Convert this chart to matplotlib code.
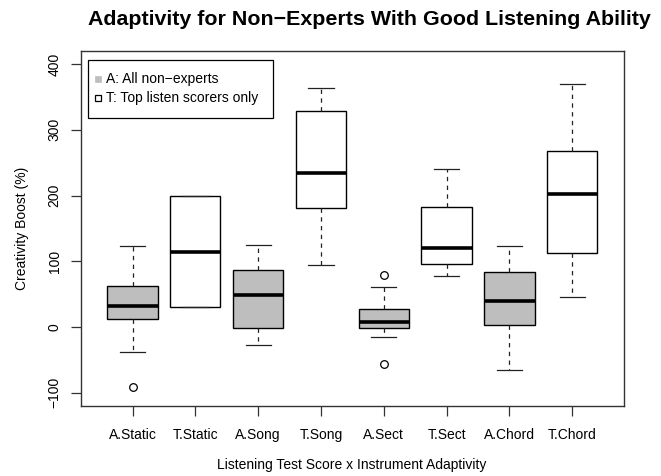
import matplotlib
matplotlib.use("Agg")
import matplotlib.pyplot as plt
from matplotlib.lines import Line2D
from matplotlib.patches import Rectangle

plt.rcParams['font.family'] = ['Liberation Sans', 'DejaVu Sans']

# Group labels and five-number summaries (Creativity Boost, %)
groups = ["A.Static", "T.Static", "A.Song", "T.Song",
          "A.Sect", "T.Sect", "A.Chord", "T.Chord"]
whisker_low = [-39, 30, -27, 94, -16, 77, -66, 45]
box_low     = [12, 30, -2, 181, -1, 96, 3, 113]
medians     = [32, 114, 48, 234, 8, 120, 40, 203]
box_high    = [62, 200, 86, 328, 27, 183, 83, 267]
whisker_high = [123, 200, 125, 363, 61, 240, 123, 369]
outliers = [[-91], [], [], [], [79, -57], [], [], []]
group_kind = ["A", "T", "A", "T", "A", "T", "A", "T"]

legend_labels = ["A: All non\u2212experts", "T: Top listen scorers only"]
fill_colors = {"A": "#BEBEBE", "T": "white"}

W, H = 661, 476
fig = plt.figure(figsize=(W / 100, H / 100), dpi=100)
ax = fig.add_axes([81 / W, 1 - 405.7 / H, (623.7 - 81) / W, (405.7 - 51) / H])

stats = []
for i, g in enumerate(groups):
    stats.append(dict(label=g, whislo=whisker_low[i], q1=box_low[i], med=medians[i],
                      q3=box_high[i], whishi=whisker_high[i], fliers=outliers[i]))

res = ax.bxp(stats, positions=range(1, len(groups) + 1), widths=0.8,
             patch_artist=True, showfliers=True,
             boxprops=dict(edgecolor="black", linewidth=1.0),
             medianprops=dict(color="black", linewidth=2.6, solid_capstyle="butt"),
             whiskerprops=dict(color="#222222", linewidth=0.9, linestyle=(0, (3.5, 3.5))),
             capprops=dict(color="#222222", linewidth=0.9),
             capwidths=0.4,
             flierprops=dict(marker="o", markerfacecolor="none", markeredgecolor="black",
                             markersize=5.5, markeredgewidth=0.9))
for patch, kind in zip(res["boxes"], group_kind):
    patch.set_facecolor(fill_colors[kind])

ax.set_xlim(0.18, 8.82)
ax.set_ylim(-120, 420)
ax.set_yticks([-100, 0, 100, 200, 300, 400])
ax.set_yticklabels(["\u2212100", "0", "100", "200", "300", "400"],
                   rotation=90, va="center")
ax.set_xticks(range(1, len(groups) + 1))
ax.set_xticklabels(groups)
ax.tick_params(axis="both", labelsize=10, length=7, width=0.9, color="#333333")
ax.tick_params(axis="x", pad=9)
ax.tick_params(axis="y", pad=7)
for sp in ax.spines.values():
    sp.set_linewidth(1.0)
    sp.set_color("#333333")

fig.text(22 / W, 1 - 228.5 / H, "Creativity Boost (%)", rotation=90,
         ha="center", va="center", fontsize=10)
fig.text(351.5 / W, 1 - 465.5 / H, "Listening Test Score x Instrument Adaptivity",
         ha="center", va="center", fontsize=10)
fig.text(369.5 / W, 1 - 25 / H,
         "Adaptivity for Non\u2212Experts With Good Listening Ability",
         ha="center", va="baseline", fontsize=15.4, fontweight="bold")

# Legend box drawn in figure pixel coordinates
fig.patches.append(Rectangle((88.3 / W, 1 - 118.3 / H), (273.3 - 88.3) / W, (118.3 - 60) / H,
                             transform=fig.transFigure, facecolor="white",
                             edgecolor="black", linewidth=0.9, zorder=5))
entry_y = [79, 98.3]
marker_styles = [dict(markerfacecolor="#BEBEBE", markeredgecolor="#BEBEBE", markeredgewidth=0.5),
                 dict(markerfacecolor="white", markeredgecolor="black", markeredgewidth=0.9)]
for yy, lab, ms in zip(entry_y, legend_labels, marker_styles):
    fig.lines.append(Line2D([98.3 / W], [1 - yy / H], transform=fig.transFigure,
                            linestyle="none", marker="s", markersize=5, zorder=6, **ms))
    fig.text(106 / W, 1 - yy / H, lab, ha="left", va="center", fontsize=10, zorder=6)

fig.savefig("out.png", dpi=100)
